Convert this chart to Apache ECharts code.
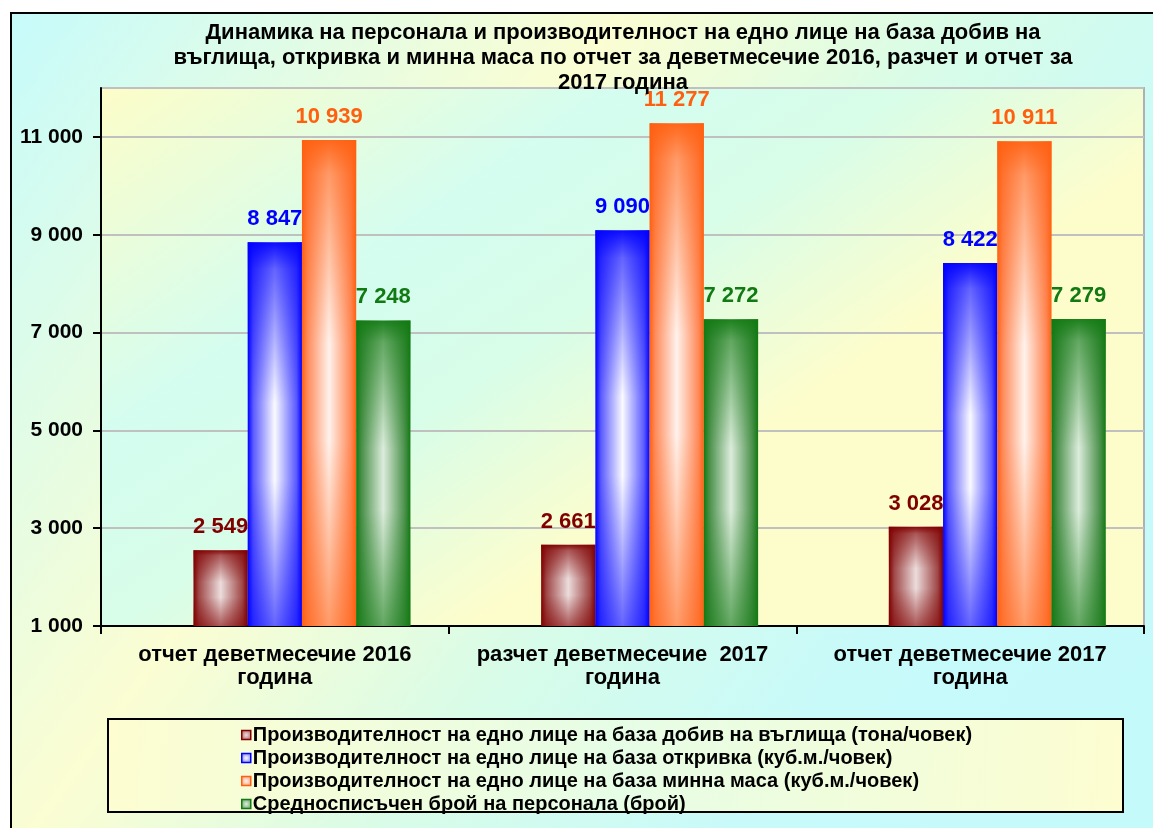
<!DOCTYPE html>
<html><head><meta charset="utf-8">
<script src="https://cdn.jsdelivr.net/npm/echarts@6/dist/echarts.min.js"></script>
<style>html,body{margin:0;padding:0;background:#fff}#c{width:1153px;height:828px}</style>
</head><body><div id="c"></div>
<script>
const categories = ['отчет деветмесечие 2016\nгодина', 'разчет деветмесечие  2017\nгодина', 'отчет деветмесечие 2017\nгодина'];
const seriesNames = [
  'Производителност на едно лице на база добив на въглища (тона/човек)',
  'Производителност на едно лице на база откривка (куб.м./човек)',
  'Производителност на едно лице на база минна маса (куб.м./човек)',
  'Средносписъчен брой на персонала (брой)'
];
const coalValues = [2549, 2661, 3028];
const overburdenValues = [8847, 9090, 8422];
const rockMassValues = [10939, 11277, 10911];
const staffValues = [7248, 7272, 7279];
const yTicks = [1000, 3000, 5000, 7000, 9000, 11000];

const FONT = 'Liberation Sans';
const fmt = v => String(v).replace(/\B(?=(\d{3})+(?!\d))/g, ' ');
const dark = ['#800000', '#0000ff', '#ff6010', '#127a12'];
const mid = ['#a04848', '#5a5aff', '#ff8a5a', '#4a904a'];
const light = ['#ecdcdc', '#fafaff', '#fff2ec', '#dcecdc'];
const rgba = (hex, a) => { const n = parseInt(hex.slice(1), 16); return `rgba(${n>>16&255},${n>>8&255},${n&255},${a})`; };
const SLOTS = 5, GAP = 0.22;
const datas = [coalValues, overburdenValues, rockMassValues, staffValues];

function makeRender(i) {
  const slot = i + 1;
  return function (params, api) {
    const cat = api.value(0), val = api.value(1);
    const top = api.coord([cat, val]);
    const base = api.coord([cat, 1000]);
    const band = api.size([1, 0])[0];
    const groupW = band * (1 - GAP), w = groupW / SLOTS;
    const x0 = top[0] - groupW / 2 + slot * w;
    const h = base[1] - top[1];
    return {
      type: 'group',
      children: [
        { type: 'rect', shape: { x: x0, y: top[1], width: w, height: h },
          style: { fill: { type: 'linear', x: 0, y: 0, x2: 1, y2: 0, colorStops: [
            {offset: 0, color: dark[i]}, {offset: 0.1, color: mid[i]}, {offset: 0.5, color: light[i]},
            {offset: 0.9, color: mid[i]}, {offset: 1, color: dark[i]}] } } },
        { type: 'rect', shape: { x: x0, y: top[1], width: w, height: h },
          style: { fill: { type: 'linear', x: 0, y: 0, x2: 0, y2: 1, colorStops: [
            {offset: 0, color: rgba(dark[i], 0.95)}, {offset: 0.07, color: rgba(dark[i], 0.6)},
            {offset: 0.42, color: rgba(dark[i], 0)}, {offset: 0.62, color: rgba(dark[i], 0)},
            {offset: 1, color: rgba(dark[i], 0.6)}] } } },
        { type: 'text', z2: 100, style: { text: fmt(val), x: x0 + w / 2, y: top[1] - 12,
          align: 'center', verticalAlign: 'bottom', fontFamily: FONT, fontWeight: 'bold', fontSize: 22, fill: dark[i] } }
      ]
    };
  };
}

const chart = echarts.init(document.getElementById('c'));
chart.setOption({
  animation: false,
  graphic: [
    { type: 'rect', z: -10, shape: {x: 11, y: 13, width: 1150, height: 830},
      style: { fill: {type: 'linear', x: 0, y: 0, x2: 1, y2: 1, colorStops: [
        {offset: 0, color: '#c6fbfb'}, {offset: 0.35, color: '#fbfdd2'}, {offset: 0.55, color: '#d8fce8'},
        {offset: 0.75, color: '#c8fafa'}, {offset: 1, color: '#c4fafa'}]},
        stroke: '#000', lineWidth: 2 } },
    { type: 'rect', z: -5, shape: {x: 108, y: 719, width: 1015, height: 93},
      style: { fill: {type: 'linear', x: 0, y: 0, x2: 1, y2: 1, colorStops: [
        {offset: 0, color: '#fdfdd0'}, {offset: 0.5, color: '#e6fde6'}, {offset: 1, color: '#fdfdd0'}]},
        stroke: '#000', lineWidth: 2 } }
  ],
  title: {
    text: 'Динамика на персонала и производителност на едно лице на база добив на\nвъглища, откривка и минна маса по отчет за деветмесечие 2016, разчет и отчет за\n2017 година',
    left: 618, textAlign: 'center', top: 15,
    textStyle: { fontFamily: FONT, fontWeight: 'bold', fontSize: 22, lineHeight: 25, color: '#000' }
  },
  grid: { left: 101, right: 9, top: 88, bottom: 202, show: true, borderColor: '#b0b0b0', borderWidth: 2,
    backgroundColor: {type: 'linear', x: 0, y: 0, x2: 0.35, y2: 1, colorStops: [
      {offset: 0, color: '#fdfdc8'}, {offset: 0.45, color: '#d4fdf0'}, {offset: 0.7, color: '#d8fde8'}, {offset: 1, color: '#fdfdcc'}]} },
  legend: {
    orient: 'vertical', left: 236, top: 720, itemWidth: 9, itemHeight: 9, itemGap: 3,
    data: seriesNames.map((n, i) => ({ name: n, icon: 'rect',
      itemStyle: { color: { type: 'radial', x: 0.5, y: 0.5, r: 0.7, colorStops: [{offset: 0, color: light[i]}, {offset: 1, color: mid[i]}] },
        borderColor: dark[i], borderWidth: 1.5 } })),
    textStyle: { fontFamily: FONT, fontWeight: 'bold', fontSize: 20, color: '#000', padding: [0, 0, 0, -3] }
  },
  xAxis: {
    type: 'category', data: categories,
    axisLine: { lineStyle: { color: '#000', width: 2 } },
    axisTick: { show: true, interval: 0, length: 8, lineStyle: { color: '#000', width: 2 } },
    axisLabel: { interval: 0, fontFamily: FONT, fontWeight: 'bold', fontSize: 22, color: '#000', lineHeight: 23, margin: 17 }
  },
  yAxis: {
    type: 'value', min: 1000, max: 12000, interval: 2000,
    axisLine: { show: true, lineStyle: { color: '#000', width: 2 } },
    axisTick: { show: true, length: 8, lineStyle: { color: '#000', width: 2 } },
    splitLine: { lineStyle: { color: '#c0c0c0', width: 2 } },
    axisLabel: { showMaxLabel: false, formatter: v => yTicks.includes(v) ? fmt(v) : '', fontFamily: FONT, fontWeight: 'bold', fontSize: 21, color: '#000', margin: 18 }
  },
  series: datas.map((d, i) => ({
    name: seriesNames[i], type: 'custom', renderItem: makeRender(i),
    data: d.map((v, k) => [k, v]), encode: { x: 0, y: 1 },
    itemStyle: { color: dark[i] }
  }))
});
</script></body></html>
